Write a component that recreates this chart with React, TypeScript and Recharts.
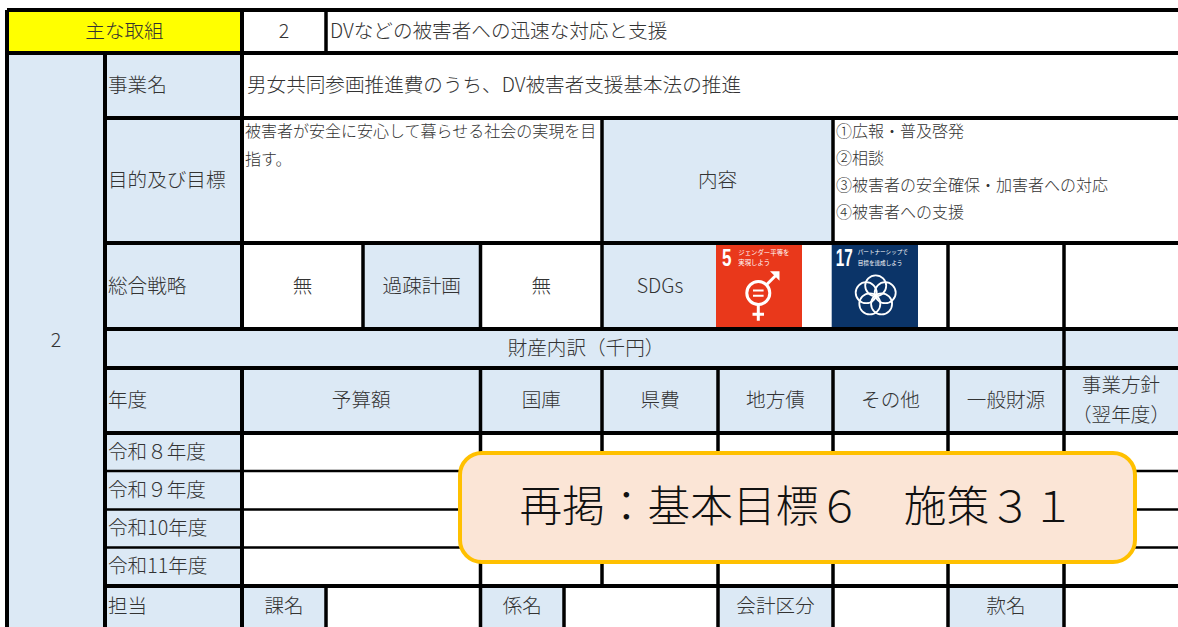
import React from 'react';
import { ComposedChart, XAxis, YAxis, Scatter, ReferenceArea, ReferenceLine } from 'recharts';

// sheet size, the axes run in sheet units
const WIDTH = 1178;
const HEIGHT = 627;

const BLUE = '#DCE9F5';
const YELLOW = '#FFFF00';
const FONT = '"Noto Sans CJK JP", "Noto Sans", sans-serif';
const ICON_DIGITS = '"Liberation Sans", sans-serif';
const BASE_SIZE = 19.6;

// grid edges of the table
const xEdges = [7, 105, 242, 326, 363, 480.5, 564, 602, 718, 833, 948, 1064, 1178];
const yEdges = [10, 53, 118, 243, 329, 368, 433, 471, 509.5, 547.5, 586, 627];
const [xA, xB, xC, xD, xE, xF, xG, xH, xI, xJ, xK, xL, xM] = xEdges;
const [y0, y1, y2, y3, y4, y5, y6, y7, y8, y9, y10, y11] = yEdges;

// year rows
const yearLabels = ['令和８年度', '令和９年度', '令和10年度', '令和11年度'];
const yearRowEdges = [y6, y7, y8, y9, y10];

// header row of the budget block
const budgetHeaders = ['予算額', '国庫', '県費', '地方債', 'その他', '一般財源'];
const budgetEdges = [xC, xF, xH, xI, xJ, xK, xL];

const purposeLines = ['被害者が安全に安心して暮らせる社会の実現を目', '指す。'];
const contentLines = ['①広報・普及啓発', '②相談', '③被害者の安全確保・加害者への対応', '④被害者への支援'];
const contentLineY = [132, 159, 186, 213];
const purposeLineY = [132, 160];

const blueCells = [
  [xA, xB, y1, y11],
  [xB, xC, y1, y2],
  [xB, xC, y2, y3],
  [xH, xJ, y2, y3],
  [xB, xC, y3, y4],
  [xE, xF, y3, y4],
  [xH, xI, y3, y4],
  [xB, xM, y4, y5],
  [xB, xM, y5, y6],
  [xB, xC, y6, y10],
  [xB, xC, y10, y11],
  [xC, xD, y10, y11],
  [xF, xG, y10, y11],
  [xI, xJ, y10, y11],
  [xK, xL, y10, y11],
];

const thickH = [
  [xA, xM, y0],
  [xA, xM, y1],
  [xB, xM, y2],
  [xB, xM, y3],
  [xB, xM, y4],
  [xB, xM, y5],
  [xB, xM, y6],
  [xB, xM, y10],
];
const thinH = [
  [xC, xM, y7],
  [xC, xM, y8],
  [xC, xM, y9],
  [xB, xC, y7],
  [xB, xC, y8],
  [xB, xC, y9],
];
const allV = [
  [xA, y0, y11],
  [xB, y1, y11],
  [xC, y0, y4],
  [xC, y5, y11],
  [xD, y0, y1],
  [xH, y2, y4],
  [xJ, y2, y3],
  [xE, y3, y4],
  [xF, y3, y4],
  [xK, y3, y4],
  [xL, y3, y4],
  [xL, y4, y11],
  [xF, y5, y11],
  [xH, y5, y10],
  [xI, y5, y11],
  [xJ, y5, y11],
  [xK, y5, y11],
  [xD, y10, y11],
  [xG, y10, y11],
];

type Label = { x: number; y: number; text: string; anchor?: string; size?: number; color?: string };
const mid = (a: number, b: number) => (a + b) / 2;

const labels: Label[] = [
  { x: mid(xA, xC), y: mid(y0, y1), text: '主な取組' },
  { x: mid(xC, xD), y: mid(y0, y1), text: '2' },
  { x: xD + 4, y: mid(y0, y1), text: 'DVなどの被害者への迅速な対応と支援', anchor: 'start' },
  { x: mid(xA, xB), y: 340, text: '2' },
  { x: xB + 3, y: mid(y1, y2), text: '事業名', anchor: 'start' },
  { x: xC + 5, y: mid(y1, y2), text: '男女共同参画推進費のうち、DV被害者支援基本法の推進', anchor: 'start' },
  { x: xB + 3, y: mid(y2, y3), text: '目的及び目標', anchor: 'start' },
  ...purposeLines.map((text, i) => ({ x: xC + 3, y: purposeLineY[i], text, anchor: 'start', size: 16 })),
  { x: mid(xH, xJ), y: mid(y2, y3), text: '内容' },
  ...contentLines.map((text, i) => ({ x: xJ + 3, y: contentLineY[i], text, anchor: 'start', size: 16 })),
  { x: xB + 3, y: mid(y3, y4), text: '総合戦略', anchor: 'start' },
  { x: mid(xC, xE), y: mid(y3, y4), text: '無' },
  { x: mid(xE, xF), y: mid(y3, y4), text: '過疎計画' },
  { x: mid(xF, xH), y: mid(y3, y4), text: '無' },
  { x: mid(xH, xI), y: mid(y3, y4), text: 'SDGs' },
  { x: 586, y: mid(y4, y5), text: '財産内訳（千円）' },
  { x: xB + 3, y: mid(y5, y6), text: '年度', anchor: 'start' },
  ...budgetHeaders.map((text, i) => ({ x: mid(budgetEdges[i], budgetEdges[i + 1]), y: mid(y5, y6), text })),
  { x: mid(xL, xM), y: 385, text: '事業方針' },
  { x: mid(xL, xM), y: 415, text: '（翌年度）' },
  ...yearLabels.map((text, i) => ({
    x: xB + 3,
    y: mid(yearRowEdges[i], yearRowEdges[i + 1]),
    text,
    anchor: 'start',
  })),
  { x: xB + 3, y: 606, text: '担当', anchor: 'start' },
  { x: mid(xC, xD), y: 606, text: '課名' },
  { x: mid(xF, xG), y: 606, text: '係名' },
  { x: mid(xI, xJ), y: 606, text: '会計区分' },
  { x: mid(xK, xL), y: 606, text: '款名' },
];

const overlayCenter = [{ x: 797.5, y: 507.5 }];
const overlayLabel: Label[] = [
  { x: 797, y: 507, text: '再掲：基本目標６　施策３１', size: 42.7, color: '#111111' },
];

const LabelMark = (props: any) => {
  const { cx, cy, payload } = props;
  const size = payload.size ?? BASE_SIZE;
  return (
    <text
      x={cx}
      y={cy - size * 0.1}
      textAnchor={payload.anchor ?? 'middle'}
      dominantBaseline="central"
      fontFamily={FONT}
      fontWeight={300}
      fontSize={size}
      fill={payload.color ?? '#333333'}
    >
      {payload.text}
    </text>
  );
};

const OverlayMark = ({ cx, cy }: any) => (
  <rect x={cx - 337.5} y={cy - 54.5} width={675} height={109} rx={22} fill="#FBE5D6" stroke="#FFC000" strokeWidth={4} />
);

const GenderIcon = ({ x, y, width, height }: any) => (
  <g transform={`translate(${x},${y})`}>
    <rect width={width} height={height} fill="#E9381B" />
    <text x={6} y={24.5} fill="#fff" fontFamily={ICON_DIGITS} fontWeight={700} fontSize={23} textLength={9.5} lengthAdjust="spacingAndGlyphs">5</text>
    <text x={22.3} y={13.5} fill="#fff" fontFamily={FONT} fontSize={6.4}>ジェンダー平等を</text>
    <text x={22.3} y={23} fill="#fff" fontFamily={FONT} fontSize={6.4}>実現しよう</text>
    <g fill="none" stroke="#fff">
      <circle cx={42.3} cy={51.3} r={11.5} strokeWidth={3} />
      <path d="M50.5 43 L62 31.5" strokeWidth={3} />
      <path d="M42.3 63 V79 M36.5 72.5 H48" strokeWidth={3} />
      <path d="M37 48.7 H47.6 M37 54 H47.6" strokeWidth={2} />
    </g>
    <path d="M54 29.5 H63.5 V39 Z" fill="#fff" />
  </g>
);

const petals = [0, 72, 144, 216, 288];

const PartnerIcon = ({ x, y, width, height }: any) => (
  <g transform={`translate(${x},${y})`}>
    <rect width={width} height={height} fill="#0B3468" />
    <text x={4} y={24} fill="#fff" fontFamily={ICON_DIGITS} fontWeight={700} fontSize={23} textLength={17} lengthAdjust="spacingAndGlyphs">17</text>
    <text x={26} y={12} fill="#fff" fontFamily={FONT} fontSize={5.6}>パートナーシップで</text>
    <text x={26} y={23} fill="#fff" fontFamily={FONT} fontSize={5.6}>目標を達成しよう</text>
    <g fill="none" stroke="#fff" strokeWidth={1.8}>
      {petals.map((deg) => (
        <circle
          key={deg}
          cx={44 + 10 * Math.sin((deg * Math.PI) / 180)}
          cy={54.1 - 10 * Math.cos((deg * Math.PI) / 180)}
          r={10.5}
        />
      ))}
    </g>
  </g>
);

export default function App() {
  return (
    <div style={{ position: 'absolute', left: 0, top: 0, width: WIDTH, height: HEIGHT, background: '#fff' }}>
      <ComposedChart width={WIDTH} height={HEIGHT} margin={{ top: 0, right: 0, bottom: 0, left: 0 }} data={labels}>
        <XAxis type="number" dataKey="x" domain={[0, WIDTH]} hide />
        <YAxis type="number" dataKey="y" domain={[0, HEIGHT]} reversed hide />

        {blueCells.map(([x1, x2, ya, yb], i) => (
          <ReferenceArea key={`b${i}`} x1={x1} x2={x2} y1={ya} y2={yb} fill={BLUE} fillOpacity={1} stroke="none" />
        ))}
        <ReferenceArea x1={xA} x2={xC} y1={y0} y2={y1} fill={YELLOW} fillOpacity={1} stroke="none" />

        {thickH.map(([x1, x2, y], i) => (
          <ReferenceLine key={`h${i}`} segment={[{ x: x1, y }, { x: x2, y }]} stroke="#000" strokeWidth={4} />
        ))}
        {thinH.map(([x1, x2, y], i) => (
          <ReferenceLine key={`t${i}`} segment={[{ x: x1, y }, { x: x2, y }]} stroke="#000" strokeWidth={2.5} />
        ))}
        {allV.map(([x, ya, yb], i) => (
          <ReferenceLine key={`v${i}`} segment={[{ x, y: ya }, { x, y: yb }]} stroke="#000" strokeWidth={i < 4 ? 4 : 3.5} />
        ))}

        <ReferenceArea x1={716} x2={802} y1={241.7} y2={327.7} shape={<GenderIcon />} />
        <ReferenceArea x1={831.7} x2={918} y1={241.7} y2={327.7} shape={<PartnerIcon />} />

        <Scatter data={labels} dataKey="y" shape={<LabelMark />} isAnimationActive={false} />
        <Scatter data={overlayCenter} dataKey="y" shape={<OverlayMark />} isAnimationActive={false} />
        <Scatter data={overlayLabel} dataKey="y" shape={<LabelMark />} isAnimationActive={false} />
      </ComposedChart>
    </div>
  );
}
